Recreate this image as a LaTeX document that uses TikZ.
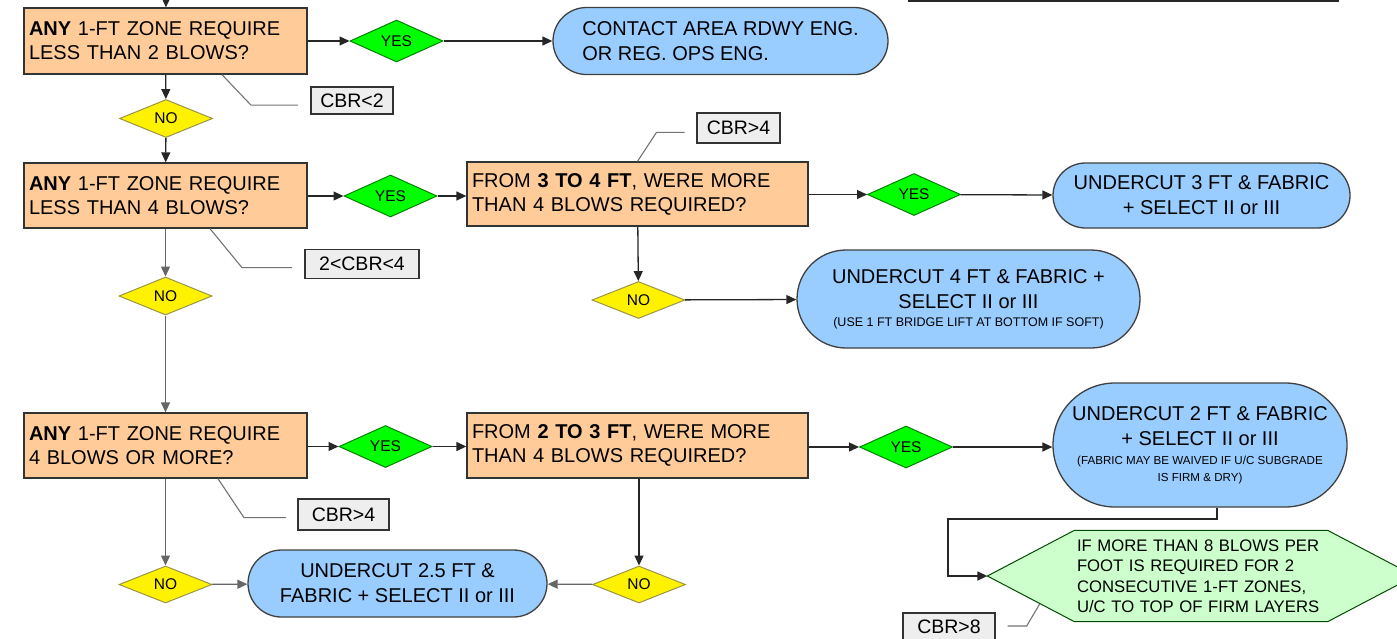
\documentclass[tikz,border=0pt]{standalone}
\usepackage{fontspec}
\setmainfont{Liberation Sans}
\usetikzlibrary{shapes.geometric,shapes.misc,arrows.meta,backgrounds}

\definecolor{peach}{RGB}{255,204,153}
\definecolor{skyblue}{RGB}{153,204,255}
\definecolor{mint}{RGB}{204,255,204}
\definecolor{notegray}{RGB}{238,238,238}

\begin{document}
\begin{tikzpicture}
[ x=1pt, y=-1pt, line width=1.3pt
, point/.style={coordinate}
, question/.style={rectangle, draw=black!80, fill=peach, inner sep=0pt, minimum height=66pt, text width=273pt, minimum width=283pt, align=left, font=\fontsize{20}{24}\selectfont}
, yes/.style={diamond, draw=green!50!black, line width=1pt, fill=green, inner sep=0pt, minimum width=93pt, minimum height=39pt, font=\fontsize{15.5}{16}\selectfont}
, no/.style={diamond, draw=yellow!55!black, line width=1pt, fill=yellow, inner sep=0pt, minimum width=93pt, minimum height=38pt, font=\fontsize{15.5}{16}\selectfont}
, action/.style={rounded rectangle, draw=black!75, fill=skyblue, inner sep=0pt, align=center, font=\fontsize{20}{25}\selectfont}
, note/.style={rectangle, draw=black!80, fill=notegray, inner sep=0pt, minimum height=29pt, font=\fontsize{19.5}{20}\selectfont}
, check/.style={rectangle, inner sep=0pt, minimum width=252pt, minimum height=90pt, text width=248pt, align=left, font=\fontsize{16.7}{20.5}\selectfont}
, checkline/.style={draw=green!30!black, line width=1pt, fill=mint}
, flow/.style={-{Triangle[length=10pt,width=9pt]}, draw=black!85}
, dimflow/.style={flow, draw=black!60}
, leader/.style={draw=black!55, line width=1.1pt}
]
\useasboundingbox (0,0) rectangle (1397,638);

% First row:
\node (start) [point] at (166,-2) {};
\node (q1) [question] at (165.5,41) {\textbf{ANY} 1-FT ZONE REQUIRE\\LESS THAN 2 BLOWS?};
\node (y1) [yes] at (396.5,41) {YES};
\node (a1) [action, minimum width=335pt, minimum height=67pt, align=left] at (720.5,41) {CONTACT AREA RDWY ENG.\\OR REG. OPS ENG.};
\node (n1) [no] at (166,118.5) {NO};
\node (cbr2) [note, minimum width=82pt, minimum height=27pt] at (352,100.5) {CBR<2};
\coordinate (rule a) at (908,1);
\coordinate (rule b) at (1339,1);

% Second row:
\node (q2) [question, minimum height=65pt] at (165.5,195.5) {\textbf{ANY} 1-FT ZONE REQUIRE\\LESS THAN 4 BLOWS?};
\node (y2) [yes] at (390.5,196) {YES};
\node (q3) [question, minimum width=341pt, text width=331pt, minimum height=64pt] at (637.5,194) {FROM \textbf{3 TO 4 FT}, WERE MORE\\THAN 4 BLOWS REQUIRED?};
\node (cbr4a) [note, minimum width=83pt, minimum height=30pt] at (738.5,128) {CBR>4};
\node (y3) [yes] at (914,194.5) {YES};
\node (a2) [action, minimum width=297pt, minimum height=65pt] at (1201.5,195.5) {UNDERCUT 3 FT \& FABRIC\\+ SELECT II or III};
\node (n2) [no] at (165.5,296) {NO};
\node (cbr24) [note, minimum width=114pt] at (362,264) {2<CBR<4};
\node (n3) [no, minimum height=37pt] at (638.5,300) {NO};
\node (a3) [action, minimum width=343pt, minimum height=98pt] at (968.5,299) {UNDERCUT 4 FT \& FABRIC +\\SELECT II or III\\[-7pt]\fontsize{12.5}{14}\selectfont (USE 1 FT BRIDGE LIFT AT BOTTOM IF SOFT)};

% Third row:
\node (q4) [question, minimum height=65pt] at (165.5,445.5) {\textbf{ANY} 1-FT ZONE REQUIRE\\4 BLOWS OR MORE?};
\node (y4) [yes] at (385.5,446.5) {YES};
\node (q5) [question, minimum width=341pt, text width=331pt, minimum height=65pt] at (637.5,445.5) {FROM \textbf{2 TO 3 FT}, WERE MORE\\THAN 4 BLOWS REQUIRED?};
\node (y5) [yes] at (906,447) {YES};
\node (a4) [action, minimum width=294pt, minimum height=124pt] at (1200,445) {UNDERCUT 2 FT \& FABRIC\\+ SELECT II or III\\[-6pt]\fontsize{11.6}{14}\selectfont (FABRIC MAY BE WAIVED IF U/C SUBGRADE\\[-8pt]\fontsize{11.6}{14}\selectfont IS FIRM \& DRY)};
\node (cbr4b) [note, minimum width=91pt, minimum height=31pt] at (343.5,514.5) {CBR>4};
\node (bend) [point] at (948,519) {};
\node (hex) [check] at (1201,576) {IF MORE THAN 8 BLOWS PER\\FOOT IS REQUIRED FOR 2\\CONSECUTIVE 1-FT ZONES,\\U/C TO TOP OF FIRM LAYERS};
\node (hex tip) [point] at ([xshift=-87pt]hex.west) {};
\node (cbr8) [note, minimum width=92pt, minimum height=28pt] at (949,627) {CBR>8};

% Fourth row:
\node (n4) [no, minimum height=37pt] at (165.5,584.5) {NO};
\node (a5) [action, minimum width=299pt, minimum height=67pt] at (397.5,583.5) {UNDERCUT 2.5 FT \&\\FABRIC + SELECT II or III};
\node (n5) [no, minimum height=37pt] at (639,584.5) {NO};

\begin{scope}[on background layer]
\draw [checkline] (hex.north west) -- (hex.north east) -- ([xshift=87pt]hex.east)
  -- (hex.south east) -- (hex.south west) -- (hex tip) -- cycle;
\end{scope}

\draw [draw=black!85, line width=2pt] (rule a) -- (rule b);
\draw [flow] (start) -- (q1);
\draw [flow] (q1) -- (y1);
\draw [flow] (y1) -- (a1);
\draw [flow] (q1) -- (n1);
\draw [flow] (n1) -- (q2);
\draw [flow] (q2.east |- y2) -- (y2);
\draw [flow] (y2) -- (y2 -| q3.west);
\draw [flow] (q3.east |- y3) -- (y3);
\draw [flow] (y3) -- (a2);
\draw [flow] (q3) -- (n3);
\draw [flow] (n3) -- (a3);
\draw [dimflow] (q2) -- (n2);
\draw [dimflow] (n2) -- (q4);
\draw [flow] (q4.east |- y4) -- (y4);
\draw [flow] (y4) -- (y4 -| q5.west);
\draw [flow] (q5.east |- y5) -- (y5);
\draw [flow] (y5) -- (y5 -| a4.west);
\draw [flow] ([xshift=17pt]a4.south) |- (bend) |- (hex tip);
\draw [dimflow] (q4) -- (n4);
\draw [dimflow] (n4) -- (a5);
\draw [flow] (q5.south -| n5) -- (n5);
\draw [dimflow] (n5) -- (a5);
\draw [leader] ([xshift=56.5pt]q1.south) -- ++(29,30.5) -- ++(47,0);
\draw [leader] ([xshift=44.5pt]q2.south) -- ++(32,39) -- ++(50,0);
\draw [leader] (q3.north) -- ++(19,-29) -- ++(28,0);
\draw [leader] ([xshift=52.5pt]q4.south) -- ++(26,39) -- ++(42,0);
\draw [leader] ([xshift=12pt,yshift=1pt]cbr8.east) -- ++(19,0) -- ++(13,-22);
\end{tikzpicture}
\end{document}
